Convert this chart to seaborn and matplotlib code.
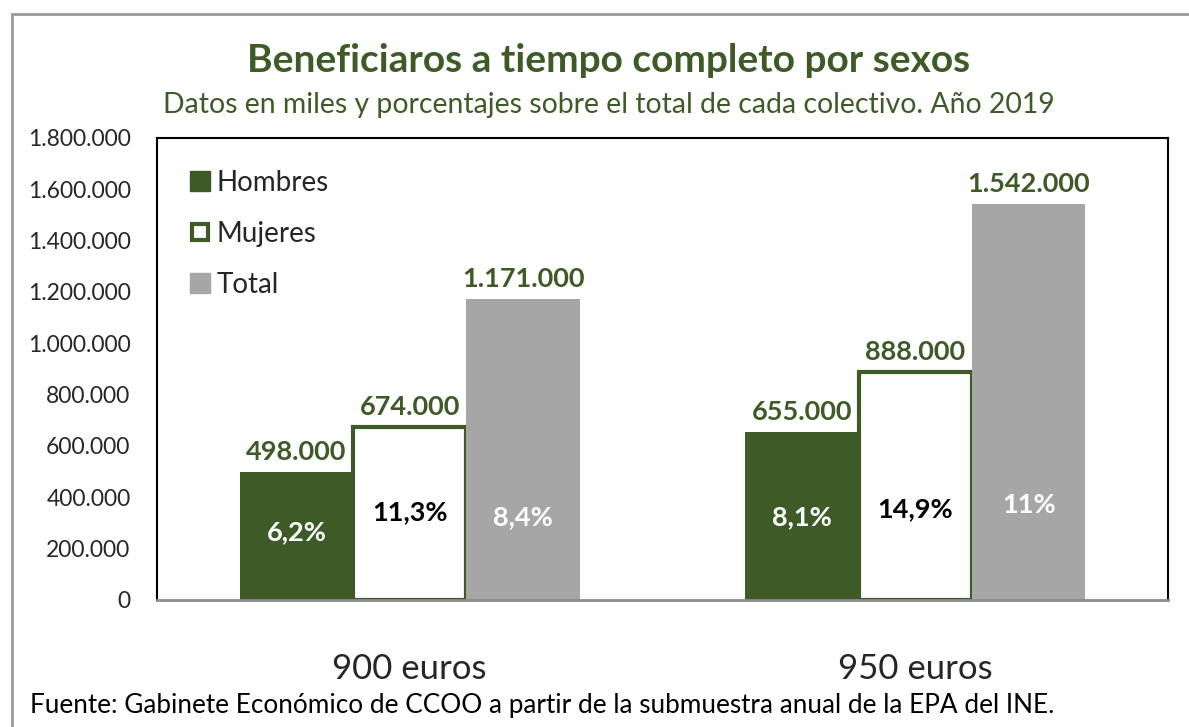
import matplotlib
matplotlib.use("Agg")
import matplotlib.pyplot as plt
import seaborn as sns
import pandas as pd
from matplotlib.lines import Line2D
from matplotlib.patches import Rectangle

# Datos
categorias = ["900 euros", "950 euros"]
colectivos = ["Hombres", "Mujeres", "Total"]
hombres = [498000, 655000]
mujeres = [674000, 888000]
total = [1171000, 1542000]
porcentajes = {
    "Hombres": ["6,2%", "8,1%"],
    "Mujeres": ["11,3%", "14,9%"],
    "Total": ["8,4%", "11%"],
}

VERDE = "#3d5a27"
GRIS = "#a6a6a6"
colores = {"Hombres": VERDE, "Mujeres": "white", "Total": GRIS}
color_pct = {"Hombres": "white", "Mujeres": "black", "Total": "white"}
# altura (en unidades del eje) donde va cada etiqueta de porcentaje
pct_y = {"Hombres": [264000, 323000], "Mujeres": [342000, 354000], "Total": [323000, 369000]}

df = pd.DataFrame({
    "categoria": categorias * 3,
    "colectivo": [c for c in colectivos for _ in categorias],
    "valor": hombres + mujeres + total,
})

sns.set_style("white")
plt.rcParams["font.family"] = ["Lato", "DejaVu Sans"]

fig = plt.figure(figsize=(11.89, 7.27), dpi=100)
ax = fig.add_axes([157 / 1189, 1 - 600 / 727, (1168 - 157) / 1189, (600 - 138) / 727])

sns.barplot(data=df, x="categoria", y="valor", hue="colectivo", hue_order=colectivos,
            palette=colores, width=0.673, gap=0, saturation=1, ax=ax, legend=False)

for cont, col in zip(ax.containers, colectivos):
    for i, bar in enumerate(cont):
        if col == "Mujeres":
            bar.set_edgecolor(VERDE)
            bar.set_linewidth(3)
        else:
            bar.set_edgecolor("none")
        x = bar.get_x() + bar.get_width() / 2
        h = bar.get_height()
        ax.annotate(f"{h:,.0f}".replace(",", "."), (x, h), xytext=(0, 6),
                    textcoords="offset points", ha="center", va="bottom",
                    fontsize=19.5, fontweight="bold", color=VERDE)
        ax.text(x, pct_y[col][i], porcentajes[col][i], ha="center", va="center",
                fontsize=19.5, fontweight="bold", color=color_pct[col])

ax.set_ylim(0, 1800000)
ax.set_yticks(range(0, 1800001, 200000))
ax.set_yticklabels([f"{v:,}".replace(",", ".") for v in range(0, 1800001, 200000)])
ax.tick_params(axis="y", length=0, pad=19, labelsize=16.5)
ax.tick_params(axis="x", length=0, pad=38, labelsize=25)
ax.set_xlabel("")
ax.set_ylabel("")

for s in ["top", "left", "right"]:
    ax.spines[s].set_color("black")
    ax.spines[s].set_linewidth(1.5)
ax.spines["bottom"].set_color("#8c8c8c")
ax.spines["bottom"].set_linewidth(2)

handles = [
    Line2D([], [], marker="s", ls="none", markersize=14, markerfacecolor=VERDE, markeredgecolor=VERDE),
    Line2D([], [], marker="s", ls="none", markersize=12, markerfacecolor="white",
           markeredgecolor=VERDE, markeredgewidth=3),
    Line2D([], [], marker="s", ls="none", markersize=14, markerfacecolor=GRIS, markeredgecolor=GRIS),
]
ax.legend(handles, colectivos, loc="upper left", frameon=False, fontsize=20,
          labelspacing=0.9, handletextpad=0.05, handlelength=1.1,
          bbox_to_anchor=(0.003, 0.985))

fig.text(0.512, 0.917, "Beneficiaros a tiempo completo por sexos", ha="center", va="center",
         fontsize=28, fontweight="bold", color=VERDE)
fig.text(0.512, 0.856, "Datos en miles y porcentajes sobre el total de cada colectivo. Año 2019",
         ha="center", va="center", fontsize=20.4, color=VERDE)
fig.text(30 / 1189, 1 - 706 / 727,
         "Fuente: Gabinete Económico de CCOO a partir de la submuestra anual de la EPA del INE.",
         ha="left", va="center", fontsize=18.8, color="black")

# marco exterior
fig.patches.append(Rectangle((12 / 1189, -0.1), 1.2, 1 - 14 / 727 + 0.1, transform=fig.transFigure,
                             fill=False, edgecolor="#999999", linewidth=2))

fig.savefig("out.png", dpi=100)
